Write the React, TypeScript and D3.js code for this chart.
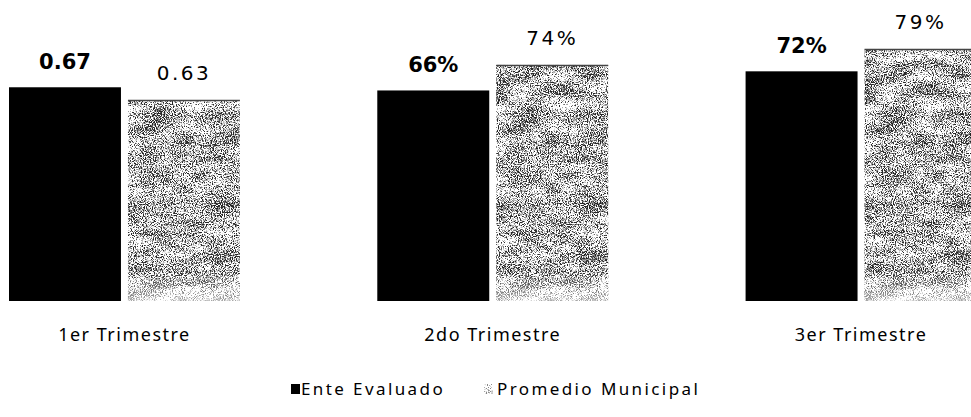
import React, { useEffect, useRef } from 'react';
import * as d3 from 'd3';

const categories = ['1er Trimestre', '2do Trimestre', '3er Trimestre'];
const seriesNames = ['Ente Evaluado', 'Promedio Municipal'];
const enteValues = [0.67, 0.66, 0.72];
const promedioValues = [0.63, 0.74, 0.79];
const enteLabels = ['0.67', '66%', '72%'];
const promedioLabels = ['0.63', '74%', '79%'];

const width = 971;
const height = 417;
const font = "'Noto Sans', 'DejaVu Sans', sans-serif";

const App: React.FC = () => {
  const svgRef = useRef<SVGSVGElement>(null);

  useEffect(() => {
    if (!svgRef.current) return;
    const svg = d3.select(svgRef.current);
    svg.selectAll('*').remove();

    // grainy texture for the grey series
    const defs = svg.append('defs');
    const filter = defs
      .append('filter')
      .attr('id', 'grain')
      .attr('x', 0)
      .attr('y', 0)
      .attr('width', 1)
      .attr('height', 1)
      .attr('color-interpolation-filters', 'sRGB');
    const opaque = '1 0 0 0 0  0 1 0 0 0  0 0 1 0 0  0 0 0 0 1';
    filter
      .append('feTurbulence')
      .attr('type', 'fractalNoise')
      .attr('baseFrequency', 0.9)
      .attr('numOctaves', 2)
      .attr('seed', 4)
      .attr('result', 'fineRaw');
    filter
      .append('feColorMatrix')
      .attr('in', 'fineRaw')
      .attr('type', 'matrix')
      .attr('values', opaque)
      .attr('result', 'fine');
    filter
      .append('feTurbulence')
      .attr('type', 'fractalNoise')
      .attr('baseFrequency', '0.03 0.08')
      .attr('numOctaves', 2)
      .attr('seed', 9)
      .attr('result', 'coarseRaw');
    filter
      .append('feColorMatrix')
      .attr('in', 'coarseRaw')
      .attr('type', 'matrix')
      .attr('values', opaque)
      .attr('result', 'coarse');
    filter
      .append('feComposite')
      .attr('in', 'fine')
      .attr('in2', 'coarse')
      .attr('operator', 'arithmetic')
      .attr('k1', 0)
      .attr('k2', 1)
      .attr('k3', 0.35)
      .attr('k4', -0.175)
      .attr('result', 'mix');
    filter
      .append('feColorMatrix')
      .attr('in', 'mix')
      .attr('type', 'matrix')
      .attr('values', '0 0 0 0 0.15  0 0 0 0 0.15  0 0 0 0 0.15  5 0 0 0 -2.25')
      .attr('result', 'dots');
    filter.append('feFlood').attr('flood-color', '#ffffff').attr('result', 'white');
    const merge = filter.append('feMerge').attr('result', 'tex');
    merge.append('feMergeNode').attr('in', 'white');
    merge.append('feMergeNode').attr('in', 'dots');
    filter
      .append('feComposite')
      .attr('in', 'tex')
      .attr('in2', 'SourceAlpha')
      .attr('operator', 'in');

    // the scanned bars fade out near the baseline
    const fade = defs
      .append('linearGradient')
      .attr('id', 'fade')
      .attr('x1', 0)
      .attr('y1', 0)
      .attr('x2', 0)
      .attr('y2', 1);
    fade.append('stop').attr('offset', '0%').attr('stop-color', '#fff').attr('stop-opacity', 0);
    fade.append('stop').attr('offset', '100%').attr('stop-color', '#fff').attr('stop-opacity', 0.6);

    const x0 = d3
      .scaleBand<string>()
      .domain(categories)
      .range([9, 976.5])
      .paddingInner(0.373)
      .paddingOuter(0);

    const x1 = d3
      .scaleBand<string>()
      .domain(seriesNames)
      .range([0, x0.bandwidth()])
      .paddingInner(0.0588);

    const y = d3.scaleLinear().domain([0, 1]).range([301, -18]);

    const groups = svg
      .selectAll('.group')
      .data(categories)
      .enter()
      .append('g')
      .attr('class', 'group')
      .attr('transform', (d) => `translate(${x0(d)},0)`);

    groups
      .append('rect')
      .attr('x', x1(seriesNames[0]) || 0)
      .attr('y', (_, i) => y(enteValues[i]))
      .attr('width', x1.bandwidth())
      .attr('height', (_, i) => y(0) - y(enteValues[i]))
      .attr('fill', '#000');

    groups
      .append('rect')
      .attr('x', x1(seriesNames[1]) || 0)
      .attr('y', (_, i) => y(promedioValues[i]))
      .attr('width', x1.bandwidth())
      .attr('height', (_, i) => y(0) - y(promedioValues[i]))
      .attr('fill', '#888')
      .attr('filter', 'url(#grain)');

    groups
      .append('rect')
      .attr('x', x1(seriesNames[1]) || 0)
      .attr('y', y(0.09))
      .attr('width', x1.bandwidth())
      .attr('height', y(0) - y(0.09))
      .attr('fill', 'url(#fade)');

    groups
      .append('line')
      .attr('x1', x1(seriesNames[1]) || 0)
      .attr('x2', (x1(seriesNames[1]) || 0) + x1.bandwidth())
      .attr('y1', (_, i) => y(promedioValues[i]) + 0.5)
      .attr('y2', (_, i) => y(promedioValues[i]) + 0.5)
      .attr('stroke', '#444')
      .attr('stroke-width', 1.5);

    groups
      .append('text')
      .attr('x', (x1(seriesNames[0]) || 0) + x1.bandwidth() / 2)
      .attr('y', (_, i) => y(enteValues[i]) - 18)
      .attr('text-anchor', 'middle')
      .attr('font-family', "'DejaVu Sans', sans-serif")
      .attr('font-weight', 'bold')
      .attr('font-size', 21)
      .attr('fill', '#000')
      .text((_, i) => enteLabels[i]);

    groups
      .append('text')
      .attr('x', (x1(seriesNames[1]) || 0) + x1.bandwidth() / 2)
      .attr('y', (_, i) => y(promedioValues[i]) - 20)
      .attr('text-anchor', 'middle')
      .attr('font-family', "'DejaVu Sans', sans-serif")
      .attr('font-size', 20)
      .attr('letter-spacing', 2.5)
      .attr('fill', '#000')
      .text((_, i) => promedioLabels[i]);

    groups
      .append('text')
      .attr('x', x0.bandwidth() / 2)
      .attr('y', 341)
      .attr('text-anchor', 'middle')
      .attr('font-family', font)
      .attr('font-size', 18)
      .attr('letter-spacing', 1.5)
      .attr('fill', '#000')
      .text((d) => d);

    // legend
    const legend = svg.append('g');
    const legendX = [291, 484];
    seriesNames.forEach((name, i) => {
      const g = legend.append('g').attr('transform', `translate(${legendX[i]},384)`);
      g.append('rect')
        .attr('width', 9)
        .attr('height', 10)
        .attr('fill', i === 0 ? '#000' : '#bbb')
        .attr('opacity', i === 0 ? 1 : 0.55)
        .attr('filter', i === 0 ? null : 'url(#grain)');
      g.append('text')
        .attr('x', i === 0 ? 10 : 13)
        .attr('y', 11)
        .attr('font-family', font)
        .attr('font-size', 17)
        .attr('letter-spacing', 2.4)
        .attr('fill', '#000')
        .text(name);
    });
  }, []);

  return (
    <svg
      ref={svgRef}
      width={width}
      height={height}
      style={{ position: 'absolute', left: 0, top: 0, background: '#fff' }}
    />
  );
};

export default App;
